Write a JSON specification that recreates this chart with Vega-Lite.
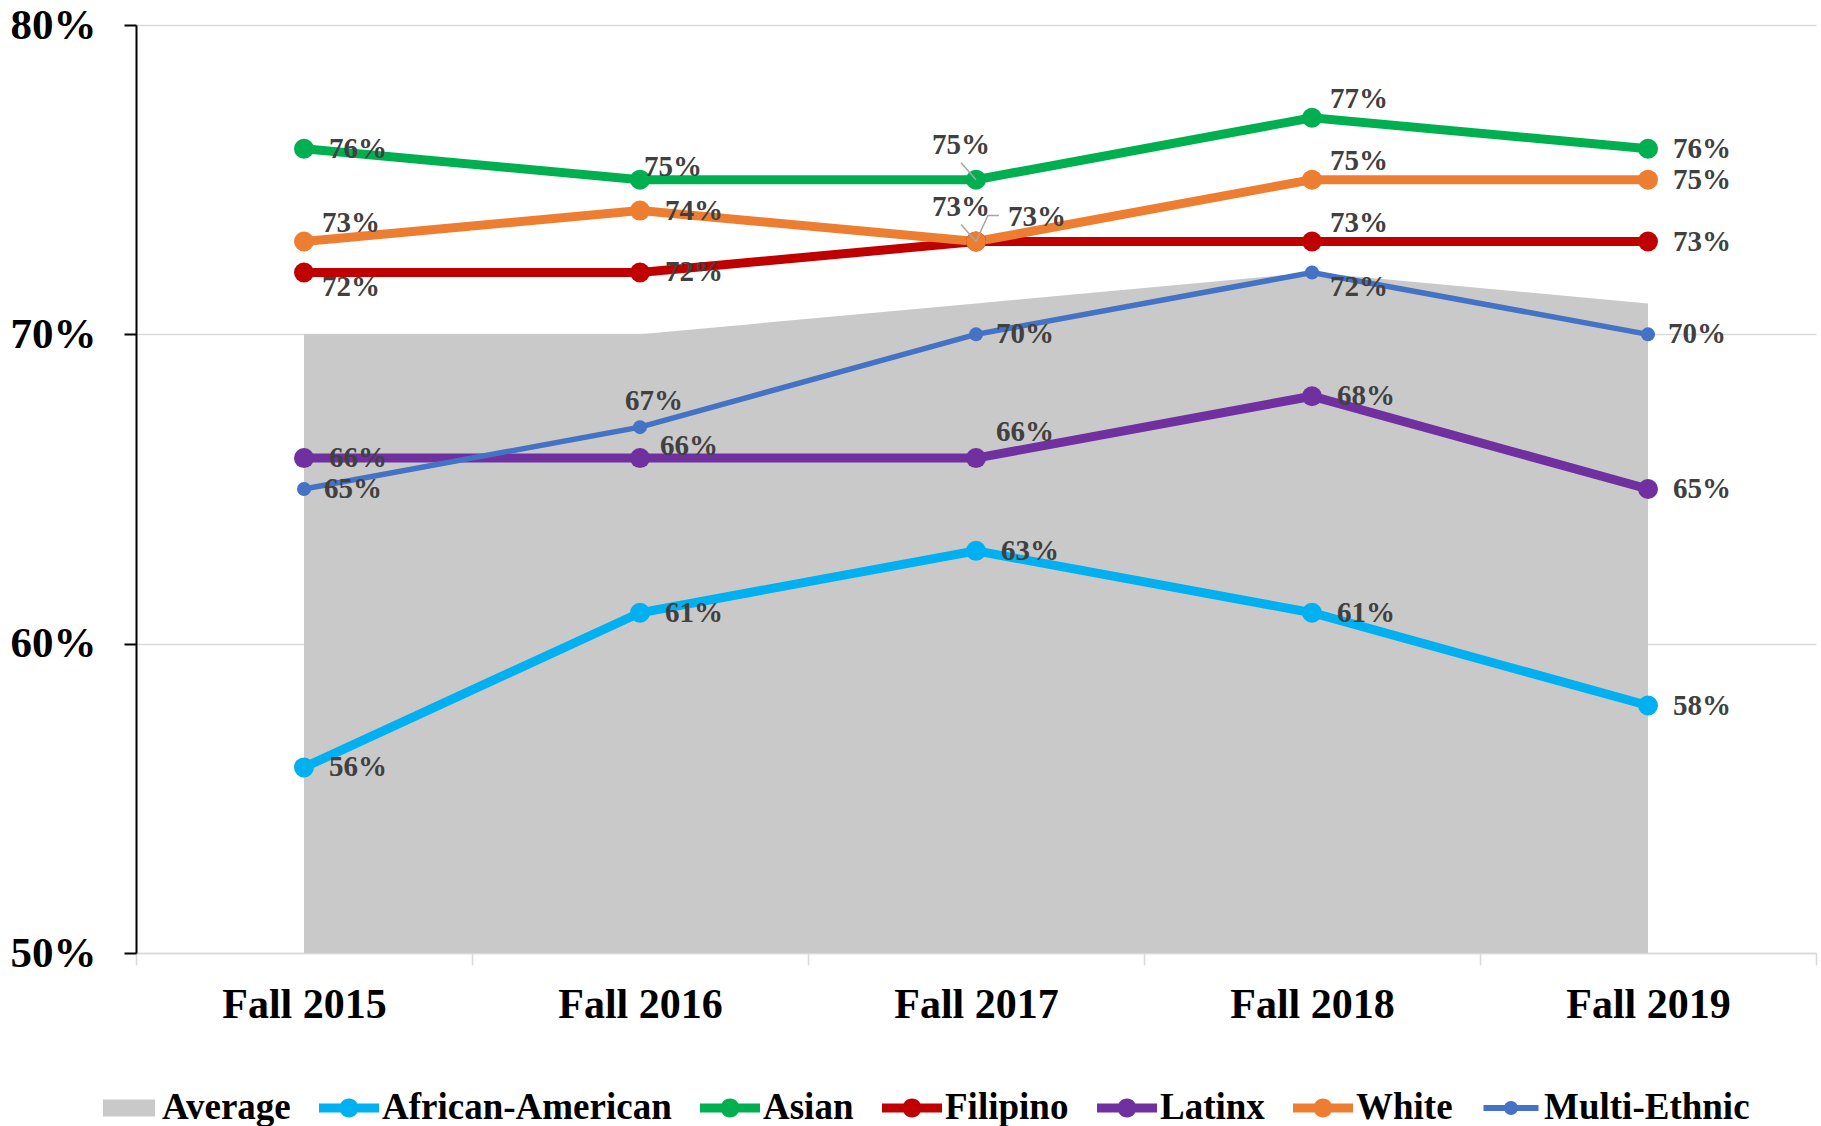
{
  "$schema": "https://vega.github.io/schema/vega-lite/v6.json",
  "autosize": "none",
  "width": 1680,
  "height": 928,
  "padding": {"left": 136, "top": 25, "right": 5, "bottom": 173},
  "background": "white",
  "config": {"view": {"stroke": null}, "font": "Liberation Serif"},
  "data": {"values": [
    {"series": "Average", "year": "Fall 2015", "value": 0.70},
    {"series": "Average", "year": "Fall 2016", "value": 0.70},
    {"series": "Average", "year": "Fall 2017", "value": 0.71},
    {"series": "Average", "year": "Fall 2018", "value": 0.72},
    {"series": "Average", "year": "Fall 2019", "value": 0.71},
    {"series": "African-American", "year": "Fall 2015", "value": 0.56},
    {"series": "African-American", "year": "Fall 2016", "value": 0.61},
    {"series": "African-American", "year": "Fall 2017", "value": 0.63},
    {"series": "African-American", "year": "Fall 2018", "value": 0.61},
    {"series": "African-American", "year": "Fall 2019", "value": 0.58},
    {"series": "Asian", "year": "Fall 2015", "value": 0.76},
    {"series": "Asian", "year": "Fall 2016", "value": 0.75},
    {"series": "Asian", "year": "Fall 2017", "value": 0.75},
    {"series": "Asian", "year": "Fall 2018", "value": 0.77},
    {"series": "Asian", "year": "Fall 2019", "value": 0.76},
    {"series": "Filipino", "year": "Fall 2015", "value": 0.72},
    {"series": "Filipino", "year": "Fall 2016", "value": 0.72},
    {"series": "Filipino", "year": "Fall 2017", "value": 0.73},
    {"series": "Filipino", "year": "Fall 2018", "value": 0.73},
    {"series": "Filipino", "year": "Fall 2019", "value": 0.73},
    {"series": "Latinx", "year": "Fall 2015", "value": 0.66},
    {"series": "Latinx", "year": "Fall 2016", "value": 0.66},
    {"series": "Latinx", "year": "Fall 2017", "value": 0.66},
    {"series": "Latinx", "year": "Fall 2018", "value": 0.68},
    {"series": "Latinx", "year": "Fall 2019", "value": 0.65},
    {"series": "White", "year": "Fall 2015", "value": 0.73},
    {"series": "White", "year": "Fall 2016", "value": 0.74},
    {"series": "White", "year": "Fall 2017", "value": 0.73},
    {"series": "White", "year": "Fall 2018", "value": 0.75},
    {"series": "White", "year": "Fall 2019", "value": 0.75},
    {"series": "Multi-Ethnic", "year": "Fall 2015", "value": 0.65},
    {"series": "Multi-Ethnic", "year": "Fall 2016", "value": 0.67},
    {"series": "Multi-Ethnic", "year": "Fall 2017", "value": 0.70},
    {"series": "Multi-Ethnic", "year": "Fall 2018", "value": 0.72},
    {"series": "Multi-Ethnic", "year": "Fall 2019", "value": 0.70}
  ]},
  "transform": [{"calculate": "datum.series + '|' + datum.year", "as": "key"}],
  "encoding": {
    "x": {
      "field": "year", "type": "nominal",
      "sort": ["Fall 2015", "Fall 2016", "Fall 2017", "Fall 2018", "Fall 2019"],
      "scale": {"type": "band", "paddingInner": 0, "paddingOuter": 0},
      "axis": {
        "title": null, "labelAngle": 0, "grid": false,
        "labelFont": "Liberation Serif", "labelFontSize": 42, "labelFontWeight": "bold", "labelColor": "black",
        "labelPadding": 19, "tickSize": 12, "tickColor": "#d9d9d9", "tickWidth": 1.5,
        "domainColor": "#d9d9d9", "domainWidth": 1.5, "tickBand": "extent"
      }
    },
    "y": {
      "field": "value", "type": "quantitative",
      "scale": {"domain": [0.5, 0.8], "nice": false, "zero": false},
      "axis": {
        "title": null, "values": [0.5, 0.6, 0.7, 0.8], "format": ".0%",
        "labelFont": "Liberation Serif", "labelFontSize": 43, "labelFontWeight": "bold", "labelColor": "black",
        "labelPadding": 28, "tickSize": 12, "tickColor": "black", "tickWidth": 2,
        "domainColor": "black", "domainWidth": 2,
        "grid": true, "gridColor": "#d9d9d9", "gridWidth": 1.5
      }
    },
    "color": {
      "field": "series", "type": "nominal",
      "scale": {
        "domain": ["Average", "African-American", "Asian", "Filipino", "Latinx", "White", "Multi-Ethnic"],
        "range": ["#c9c9c9", "#00b0f0", "#00b050", "#c00000", "#7030a0", "#ed7d31", "#4472c4"]
      },
      "legend": {
        "orient": "none", "legendX": -37, "legendY": 1053, "direction": "horizontal", "columns": 7,
        "title": null, "padding": 0,
        "labelFont": "Liberation Serif", "labelFontSize": 37, "labelFontWeight": "bold", "labelColor": "black",
        "labelOffset": 3, "columnPadding": 28, "symbolSize": 3600, "labelLimit": 500,
        "encode": {
          "symbols": {
            "update": {
              "shape": {"signal": "(datum.value === 'Average' ? 'M-0.87,-0.283L0.87,-0.283L0.87,0.283L-0.87,0.283Z' : datum.value === 'Multi-Ethnic' ? 'M-0.917,-0.1L0.917,-0.1L0.917,0.1L-0.917,0.1ZM-0.233,0A0.233,0.233 0 1,1 0.233,0A0.233,0.233 0 1,1 -0.233,0Z' : 'M-1,-0.15L1,-0.15L1,0.15L-1,0.15ZM-0.317,0A0.317,0.317 0 1,1 0.317,0A0.317,0.317 0 1,1 -0.317,0Z')"},
              "strokeWidth": {"value": 0},
              "fill": {"scale": "color", "field": "value"},
              "stroke": {"value": "transparent"},
              "opacity": {"value": 1},
              "fillOpacity": {"value": 1}
            }
          }
        }
      }
    }
  },
  "layer": [
    {
      "transform": [{"filter": "datum.series === 'Average'"}],
      "mark": {"type": "area", "opacity": 1},
      "encoding": {"y2": {"datum": 0.5}}
    },
    {
      "transform": [{"filter": "datum.series !== 'Average' && datum.series !== 'Multi-Ethnic'"}],
      "mark": {"type": "line", "strokeWidth": 9}
    },
    {
      "transform": [{"filter": "datum.series !== 'Average' && datum.series !== 'Multi-Ethnic'"}],
      "mark": {"type": "point", "filled": true, "size": 400, "opacity": 1, "shape": "circle"}
    },
    {
      "transform": [{"filter": "datum.series === 'Multi-Ethnic'"}],
      "mark": {"type": "line", "strokeWidth": 5.5}
    },
    {
      "transform": [{"filter": "datum.series === 'Multi-Ethnic'"}],
      "mark": {"type": "point", "filled": true, "size": 196, "opacity": 1, "shape": "circle"}
    },
    {
      "transform": [{"filter": "indexof(['Asian|Fall 2017','White|Fall 2017'], datum.key) >= 0"}],
      "mark": {"type": "point", "filled": false, "shape": "M0,0L-0.88,-1", "size": 1156, "strokeWidth": 1.5, "opacity": 1},
      "encoding": {"color": {"value": "#a6a6a6"}}
    },
    {
      "transform": [{"filter": "datum.key === 'Filipino|Fall 2017'"}],
      "mark": {"type": "point", "filled": false, "shape": "M0,0L0.46,-1L0.88,-1", "size": 2704, "strokeWidth": 1.5, "opacity": 1},
      "encoding": {"color": {"value": "#a6a6a6"}}
    },
    {
      "transform": [{"filter": "datum.series !== 'Average' && indexof(['Asian|Fall 2018','White|Fall 2015','White|Fall 2018','Filipino|Fall 2018','Latinx|Fall 2017','Filipino|Fall 2017','Asian|Fall 2016','Latinx|Fall 2016','Filipino|Fall 2015','Multi-Ethnic|Fall 2018','Asian|Fall 2017','White|Fall 2017','Multi-Ethnic|Fall 2016','Multi-Ethnic|Fall 2015','Multi-Ethnic|Fall 2017','Multi-Ethnic|Fall 2019'], datum.key) < 0"}],
      "mark": {"type": "text", "align": "left", "baseline": "middle", "dx": 25, "dy": 0, "font": "Liberation Serif", "fontSize": 29, "fontWeight": "bold"},
      "encoding": {"color": {"value": "#404040"}, "text": {"field": "value", "type": "quantitative", "format": ".0%"}}
    },
    {
      "transform": [{"filter": "indexof(['Multi-Ethnic|Fall 2015','Multi-Ethnic|Fall 2017','Multi-Ethnic|Fall 2019'], datum.key) >= 0"}],
      "mark": {"type": "text", "align": "left", "baseline": "middle", "dx": 20, "dy": 0, "font": "Liberation Serif", "fontSize": 29, "fontWeight": "bold"},
      "encoding": {"color": {"value": "#404040"}, "text": {"field": "value", "type": "quantitative", "format": ".0%"}}
    },
    {
      "transform": [{"filter": "indexof(['Asian|Fall 2018','White|Fall 2015','White|Fall 2018','Filipino|Fall 2018'], datum.key) >= 0"}],
      "mark": {"type": "text", "align": "left", "baseline": "middle", "dx": 18, "dy": -19, "font": "Liberation Serif", "fontSize": 29, "fontWeight": "bold"},
      "encoding": {"color": {"value": "#404040"}, "text": {"field": "value", "type": "quantitative", "format": ".0%"}}
    },
    {
      "transform": [{"filter": "datum.key === 'Latinx|Fall 2017'"}],
      "mark": {"type": "text", "align": "left", "baseline": "middle", "dx": 20, "dy": -26, "font": "Liberation Serif", "fontSize": 29, "fontWeight": "bold"},
      "encoding": {"color": {"value": "#404040"}, "text": {"field": "value", "type": "quantitative", "format": ".0%"}}
    },
    {
      "transform": [{"filter": "datum.key === 'Filipino|Fall 2017'"}],
      "mark": {"type": "text", "align": "left", "baseline": "middle", "dx": 32, "dy": -25, "font": "Liberation Serif", "fontSize": 29, "fontWeight": "bold"},
      "encoding": {"color": {"value": "#404040"}, "text": {"field": "value", "type": "quantitative", "format": ".0%"}}
    },
    {
      "transform": [{"filter": "datum.key === 'Asian|Fall 2016'"}],
      "mark": {"type": "text", "align": "left", "baseline": "middle", "dx": 4, "dy": -13, "font": "Liberation Serif", "fontSize": 29, "fontWeight": "bold"},
      "encoding": {"color": {"value": "#404040"}, "text": {"field": "value", "type": "quantitative", "format": ".0%"}}
    },
    {
      "transform": [{"filter": "datum.key === 'Latinx|Fall 2016'"}],
      "mark": {"type": "text", "align": "left", "baseline": "middle", "dx": 20, "dy": -12, "font": "Liberation Serif", "fontSize": 29, "fontWeight": "bold"},
      "encoding": {"color": {"value": "#404040"}, "text": {"field": "value", "type": "quantitative", "format": ".0%"}}
    },
    {
      "transform": [{"filter": "indexof(['Filipino|Fall 2015','Multi-Ethnic|Fall 2018'], datum.key) >= 0"}],
      "mark": {"type": "text", "align": "left", "baseline": "middle", "dx": 18, "dy": 15, "font": "Liberation Serif", "fontSize": 29, "fontWeight": "bold"},
      "encoding": {"color": {"value": "#404040"}, "text": {"field": "value", "type": "quantitative", "format": ".0%"}}
    },
    {
      "transform": [{"filter": "indexof(['Asian|Fall 2017','White|Fall 2017'], datum.key) >= 0"}],
      "mark": {"type": "text", "align": "left", "baseline": "middle", "dx": -44, "dy": -35, "font": "Liberation Serif", "fontSize": 29, "fontWeight": "bold"},
      "encoding": {"color": {"value": "#404040"}, "text": {"field": "value", "type": "quantitative", "format": ".0%"}}
    },
    {
      "transform": [{"filter": "datum.key === 'Multi-Ethnic|Fall 2016'"}],
      "mark": {"type": "text", "align": "left", "baseline": "middle", "dx": -15, "dy": -26, "font": "Liberation Serif", "fontSize": 29, "fontWeight": "bold"},
      "encoding": {"color": {"value": "#404040"}, "text": {"field": "value", "type": "quantitative", "format": ".0%"}}
    }
  ]
}
